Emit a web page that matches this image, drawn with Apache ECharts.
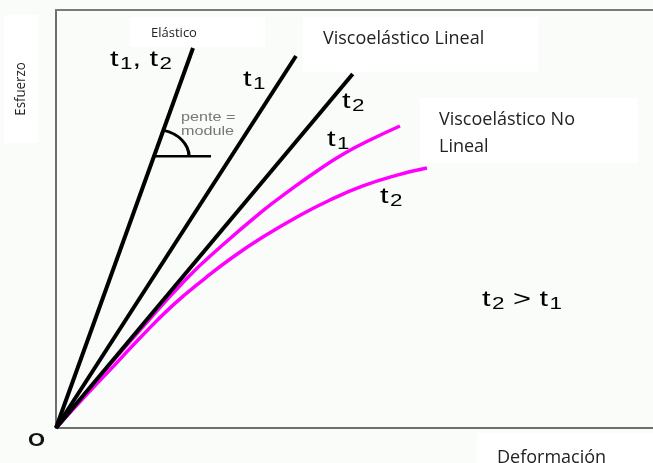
<!DOCTYPE html>
<html><head><meta charset="utf-8">
<script src="https://cdn.jsdelivr.net/npm/echarts@6/dist/echarts.min.js"></script>
<style>html,body{margin:0;padding:0;background:#fafcfa}#c{width:653px;height:463px}</style>
</head><body><div id="c"></div>
<script>
// Elástico (t1, t2)
const elasticX = [0, 22.95];
const elasticY = [0, 90.9];
// Viscoelástico lineal
const linT1X = [0, 40.2];
const linT1Y = [0, 89.0];
const linT2X = [0, 49.7];
const linT2Y = [0, 84.7];
// Viscoelástico no lineal
const nlT1X = [0, 7.37, 14.07, 21.78, 27.30, 34.67, 39.20, 43.72, 48.07, 52.60, 57.62];
const nlT1Y = [0, 12.4, 23.44, 35.6, 43.0, 52.0, 56.9, 61.5, 65.5, 68.9, 72.25];
const nlT2X = [0, 5.53, 10.05, 13.90, 19.60, 25.13, 29.65, 34.67, 40.37, 45.90, 51.42, 57.12, 62.14];
const nlT2Y = [0, 8.6, 15.4, 21.3, 29.4, 36.0, 40.91, 45.69, 50.48, 54.55, 57.9, 60.5, 62.20];
// pente = module (angle marker)
const angleX = [16.4, 25.96];
const angleY = [65.0, 65.0];

const zip = (xs, ys) => xs.map((x, i) => [x, ys[i]]);
const chart = echarts.init(document.getElementById('c'), null, {renderer: 'canvas'});

const axisLine = {show: true, lineStyle: {color: '#6e6e6e', width: 2}};
const blackLine = (name, xs, ys) => ({
  name, type: 'line', data: zip(xs, ys), showSymbol: false, symbol: 'none',
  lineStyle: {color: '#000', width: 4}, z: 3
});
const magLine = (name, xs, ys) => ({
  name, type: 'line', data: zip(xs, ys), showSymbol: false, symbol: 'none',
  smooth: 0.5,
  lineStyle: {color: '#ff00ff', width: 3.5}, z: 2
});

const SX = 1.4;
const sub = (a, b) => '{t|' + a + '}{s|' + b + '}';
const richT = {
  t: {fontFamily: 'Liberation Sans', fontSize: 22, lineHeight: 26, verticalAlign: 'middle', fill: '#000'},
  s: {fontFamily: 'Liberation Sans', fontSize: 16, lineHeight: 12, verticalAlign: 'bottom', fill: '#000', padding: [0, 0, 0, 1]}
};
const txt = (text, x, y, extra, sx) => ({
  type: 'text', x, y, z: 10, scaleX: sx || 1,
  style: Object.assign({text, textAlign: 'left', textVerticalAlign: 'middle'}, extra || {})
});
const richTxt = (text, x, y) => ({
  type: 'text', x, y, z: 10, scaleX: SX,
  style: {text, rich: richT, textAlign: 'left', textVerticalAlign: 'middle'}
});
const box = (x, y, w, h) => ({type: 'rect', z: 0, shape: {x, y, width: w, height: h}, style: {fill: '#ffffff', stroke: null}});

const graphics = [
  box(4, 15, 34, 128),
  box(130, 17, 135, 30),
  box(303, 17, 235, 55),
  box(420, 98, 218, 65),
  box(477, 433, 176, 30),
  {type: 'text', x: 21, y: 89, rotation: Math.PI / 2, z: 10, scaleX: 0.95,
   style: {text: 'Esfuerzo', fontSize: 14, fontFamily: 'Open Sans', fill: '#222', textAlign: 'center', textVerticalAlign: 'middle'}},
  txt('Elástico', 174, 33, {fontSize: 13, fontFamily: 'Open Sans', fill: '#222', textAlign: 'center'}),
  txt('Viscoelástico Lineal', 323, 39, {fontSize: 18, fontFamily: 'Open Sans', fill: '#222'}),
  txt('Viscoelástico No', 439, 120, {fontSize: 18, fontFamily: 'Open Sans', fill: '#222'}),
  txt('Lineal', 439, 147, {fontSize: 18, fontFamily: 'Open Sans', fill: '#222'}),
  txt('Deformación', 497, 458, {fontSize: 18, fontFamily: 'Open Sans', fill: '#222'}),
  txt('O', 28, 441, {fontSize: 19, fontWeight: 'bold', fontFamily: 'Liberation Sans', fill: '#111'}, 1.15),
  txt('pente =', 181, 118, {fontSize: 12, fontFamily: 'Liberation Sans', fill: '#777'}, 1.35),
  txt('module', 181, 132, {fontSize: 12, fontFamily: 'Liberation Sans', fill: '#777'}, 1.35),
  richTxt(sub('t', '1') + '{t|, }' + sub('t', '2'), 110, 60),
  richTxt(sub('t', '1'), 243, 80),
  richTxt(sub('t', '2'), 342, 102),
  richTxt(sub('t', '1'), 327, 140),
  richTxt(sub('t', '2'), 380, 197),
  richTxt(sub('t', '2') + '{t| > }' + sub('t', '1'), 482, 300)
];

const ARC_SX = 1.3;
chart.setOption({
  animation: false,
  backgroundColor: '#fafcfa',
  grid: {left: 56, right: 0, top: 10, bottom: 35},
  xAxis: [
    {type: 'value', min: 0, max: 100, position: 'bottom', axisLine, axisTick: {show: false}, axisLabel: {show: false}, splitLine: {show: false}},
    {type: 'value', min: 0, max: 100, position: 'top', axisLine: {show: true, lineStyle: {color: '#7a7a7a', width: 2}}, axisTick: {show: false}, axisLabel: {show: false}, splitLine: {show: false}}
  ],
  yAxis: {type: 'value', min: 0, max: 100, axisLine, axisTick: {show: false}, axisLabel: {show: false}, splitLine: {show: false}},
  series: [
    magLine('NL t1', nlT1X, nlT1Y),
    magLine('NL t2', nlT2X, nlT2Y),
    blackLine('Elástico', elasticX, elasticY),
    blackLine('L t1', linT1X, linT1Y),
    blackLine('L t2', linT2X, linT2Y),
    {type: 'line', data: zip(angleX, angleY), showSymbol: false, symbol: 'none', lineStyle: {color: '#000', width: 2.5}, z: 3},
    {type: 'custom', z: 4, data: [[angleX[0], angleY[0]]], silent: true,
     renderItem: (params, api) => {
       const c = api.coord([api.value(0), api.value(1)]);
       const o = api.coord([elasticX[0], elasticY[0]]);
       const e = api.coord([elasticX[1], elasticY[1]]);
       const ang = Math.atan2(e[1] - o[1], (e[0] - o[0]) / ARC_SX);
       return {type: 'arc', x: c[0], y: c[1], scaleX: ARC_SX,
               shape: {cx: 0, cy: 0, r: 27, startAngle: ang, endAngle: 0, clockwise: true},
               style: {stroke: '#000', lineWidth: 2.5, fill: 'none', strokeNoScale: true}};
     }}
  ],
  graphic: graphics
});
</script></body></html>
